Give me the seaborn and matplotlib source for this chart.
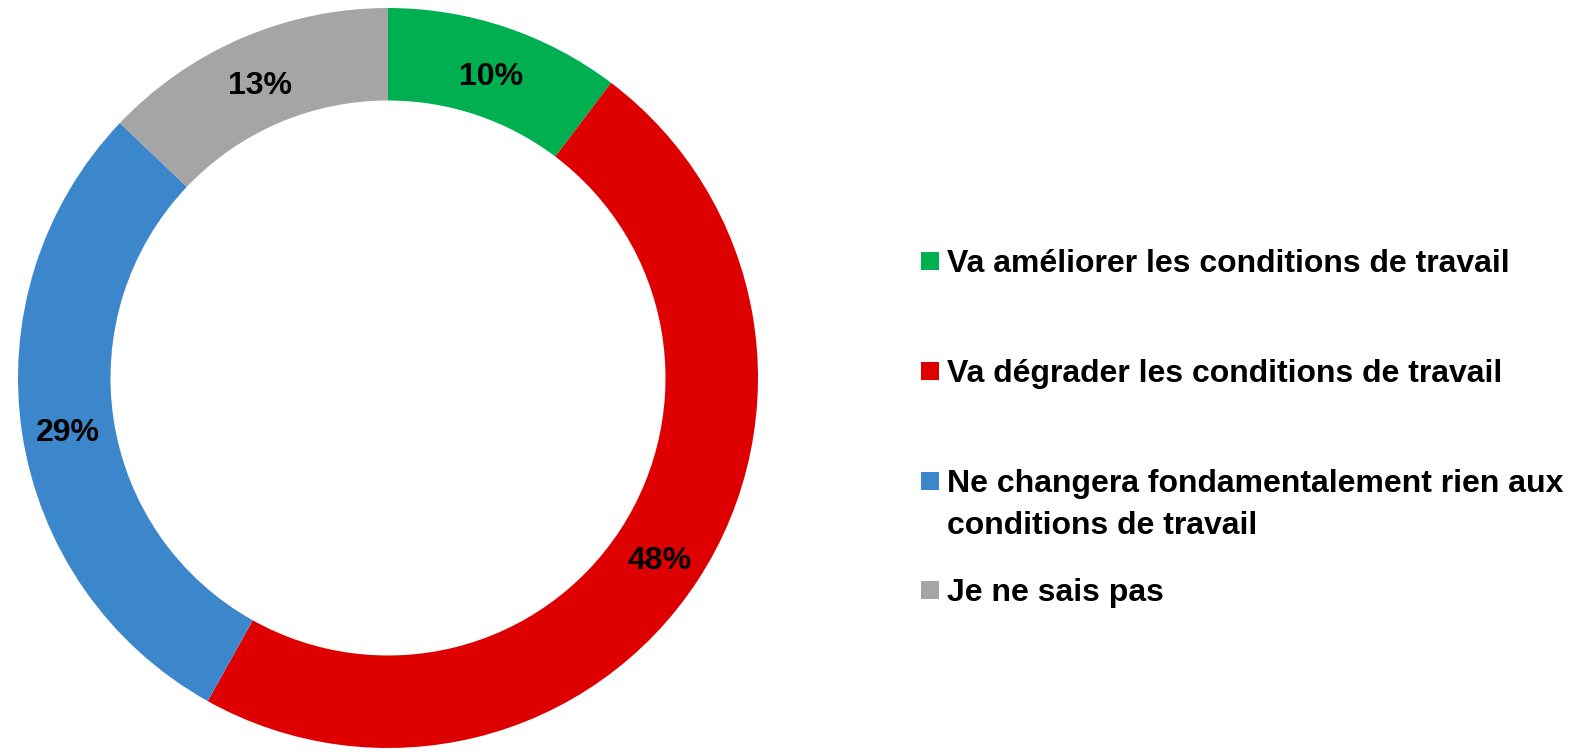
import seaborn as sns
import matplotlib.pyplot as plt
from matplotlib.patches import Rectangle
from matplotlib.transforms import offset_copy

# dati (percentuali)
categorie = [
    "Va améliorer les conditions de travail",
    "Va dégrader les conditions de travail",
    "Ne changera fondamentalement rien aux\nconditions de travail",
    "Je ne sais pas",
]
valori = [10.3, 47.8, 29.0, 12.9]
colori = ["#00B050", "#DE0000", "#3C87CB", "#A5A5A5"]

sns.set_theme(style="white")
plt.rcParams['font.family'] = ['Liberation Sans', 'DejaVu Sans']

W, H = 1576, 753
fig = plt.figure(figsize=(W / 100, H / 100), dpi=100)

# anello: centro (388, 378) px, raggio 370 px
cx, cy, r = 388, 378, 370
ax = fig.add_axes([(cx - r) / W, (H - cy - r) / H, 2 * r / W, 2 * r / H])
palette = sns.color_palette(colori)

wedges, testi, autotesti = ax.pie(
    valori,
    colors=palette,
    startangle=90,
    counterclock=False,
    radius=1,
    wedgeprops=dict(width=0.25, edgecolor='none'),
    autopct='%.0f%%',
    pctdistance=0.875,
    textprops=dict(fontsize=23, fontweight='bold', color='black'),
)
# le etichette stanno un po' più in basso del centro dell'anello
for t in autotesti:
    t.set_transform(offset_copy(ax.transData, fig=fig, y=-6, units='dots'))
ax.set_xlim(-1, 1)
ax.set_ylim(-1, 1)
ax.set_aspect('auto')
ax.axis('off')

# legenda disegnata a mano (il marker sta sulla prima riga)
centri_y = [261, 371, 481, 590]
for colore, testo, yc in zip(palette, categorie, centri_y):
    fig.patches.append(Rectangle((921 / W, 1 - (yc + 9) / H), 18 / W, 18 / H,
                                 transform=fig.transFigure, facecolor=colore,
                                 edgecolor='none'))
    for k, riga in enumerate(testo.split("\n")):
        fig.text(947 / W, 1 - (yc + 11 + 42 * k) / H, riga, fontsize=23,
                 fontweight='bold', color='black', va='baseline', ha='left')

fig.savefig("out.png", dpi=100, facecolor='white')
